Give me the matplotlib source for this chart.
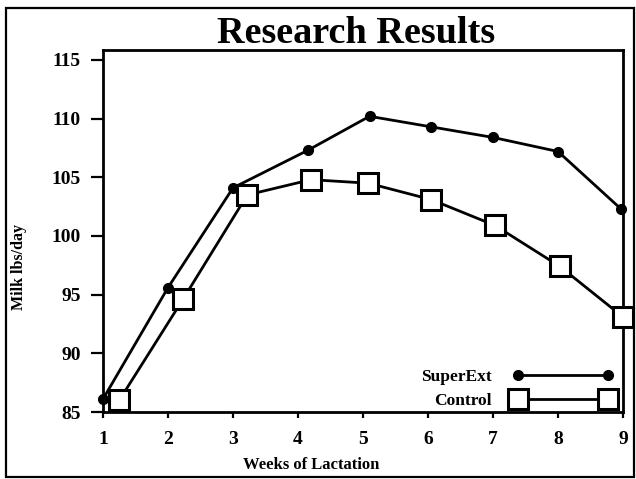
import matplotlib
matplotlib.use("Agg")
import matplotlib.pyplot as plt
from matplotlib.patches import Rectangle

# --- data ---
weeks_superext = [1.0, 2.0, 3.0, 4.15, 5.1, 6.05, 7.0, 8.0, 8.97]
milk_superext = [86.1, 95.6, 104.1, 107.3, 110.2, 109.3, 108.4, 107.2, 102.3]

weeks_control = [1.25, 2.23, 3.22, 4.2, 5.08, 6.05, 7.03, 8.03, 9.0]
milk_control = [86.0, 94.6, 103.5, 104.8, 104.5, 103.1, 100.9, 97.4, 93.1]

x_ticks = [1, 2, 3, 4, 5, 6, 7, 8, 9]
y_ticks = [85, 90, 95, 100, 105, 110, 115]

plt.rcParams["font.family"] = ["Liberation Serif", "DejaVu Serif"]
plt.rcParams["font.weight"] = "bold"

fig = plt.figure(figsize=(6.36, 4.79), dpi=100)
ax = fig.add_axes([103 / 636, 67 / 479, 520 / 636, 362 / 479])

# outer frame around the whole picture (scan border)
fig.patches.append(Rectangle((6 / 636, 2 / 479), 628 / 636, 469 / 479,
                             transform=fig.transFigure, fill=False,
                             edgecolor="black", linewidth=1.6))

ax.plot(weeks_superext, milk_superext, color="black", linewidth=2,
        marker="o", markersize=7, markerfacecolor="black",
        markeredgecolor="black", label="SuperExt", clip_on=False, zorder=3)
ax.plot(weeks_control, milk_control, color="black", linewidth=2,
        marker="s", markersize=14, markerfacecolor="white",
        markeredgecolor="black", markeredgewidth=2.2, label="Control",
        clip_on=False, zorder=4)

ax.set_xlim(1, 9)
ax.set_ylim(85, 115.85)
ax.set_xticks(x_ticks)
ax.set_yticks(y_ticks)
ax.tick_params(axis="both", direction="out", width=1.6, labelsize=14)
ax.tick_params(axis="y", length=9, pad=7)
ax.tick_params(axis="x", length=4, pad=10)
for s in ax.spines.values():
    s.set_linewidth(2)

ax.set_xlabel("Weeks of Lactation", fontsize=12, fontweight="bold")
ax.xaxis.set_label_coords(0.40, -0.124)
ax.set_ylabel("Milk lbs/day", fontsize=11.5, fontweight="bold")
ax.yaxis.set_label_coords(-0.147, 0.40)
fig.text(0.56, 0.930, "Research Results", ha="center", va="center",
         fontsize=27.5, fontweight="bold")

ax.legend(loc="lower right", bbox_to_anchor=(0.998, -0.017), frameon=False,
          borderpad=0, numpoints=2, markerfirst=False, handlelength=5.8,
          handletextpad=1.2, labelspacing=0.5,
          prop={"weight": "bold", "size": 12.5})

fig.savefig("out.png", dpi=100)
